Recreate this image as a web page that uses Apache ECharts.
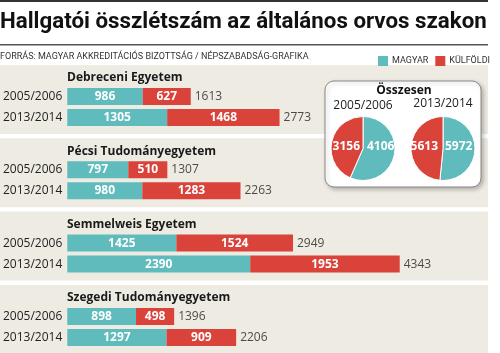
<!DOCTYPE html>
<html>
<head>
<meta charset="utf-8">
<script src="https://cdn.jsdelivr.net/npm/echarts@6/dist/echarts.min.js"></script>
<style>
  html, body { margin: 0; padding: 0; background: #fff; }
  #chart { width: 500px; height: 353px; }
</style>
</head>
<body>
<div id="chart"></div>
<script>
// adatok
var categories = ['2005/2006', '2013/2014'];
var universities = ['Debreceni Egyetem', 'Pécsi Tudományegyetem', 'Semmelweis Egyetem', 'Szegedi Tudományegyetem'];
var magyar = [[986, 1305], [797, 980], [1425, 2390], [898, 1297]];
var kulfoldi = [[627, 1468], [510, 1283], [1524, 1953], [498, 909]];
var totals = [[1613, 2773], [1307, 2263], [2949, 4343], [1396, 2206]];
var pieYears = ['2005/2006', '2013/2014'];
var pieMagyar = [4106, 5972];
var pieKulfoldi = [3156, 5613];

var TEAL = '#5fbbbc';
var RED = '#d9433a';
var PANEL = '#eeebe3';
var font = 'Open Sans';

var chart = echarts.init(document.getElementById('chart'), null, { renderer: 'canvas' });

var grids = [], xAxes = [], yAxes = [], series = [], graphics = [];

// top lines + title
graphics.push({ type: 'rect', shape: { x: 0, y: 0, width: 488, height: 2 }, style: { fill: '#333' } });
graphics.push({ type: 'text', x: 0, y: 22, style: { text: 'Hallgatói összlétszám az általános orvos szakon', font: 'bold 22.3px Roboto', fill: '#111', textVerticalAlign: 'middle' } });
graphics.push({ type: 'rect', shape: { x: 0, y: 44, width: 488, height: 1.5 }, style: { fill: '#555' } });
graphics.push({ type: 'text', x: 0, y: 57, style: { text: 'FORRÁS: MAGYAR AKKREDITÁCIÓS BIZOTTSÁG / NÉPSZABADSÁG-GRAFIKA', font: '9px Roboto', fill: '#333', textVerticalAlign: 'middle' } });

for (var i = 0; i < universities.length; i++) {
  var p = 65 + 73.3 * i;
  graphics.push({ type: 'rect', shape: { x: 0, y: p, width: 488, height: 69 }, style: { fill: PANEL } });
  graphics.push({ type: 'text', x: 67, y: p + 13, style: { text: universities[i], font: 'bold 12px "' + font + '"', fill: '#1a1a1a', textVerticalAlign: 'middle' } });

  grids.push({ left: 67, top: p + 21, width: 383, height: 42 });
  xAxes.push({ gridIndex: i, type: 'value', min: 0, max: 5000, show: false });
  yAxes.push({
    gridIndex: i, type: 'category', data: categories, inverse: true,
    axisLine: { show: false }, axisTick: { show: false },
    axisLabel: { margin: 5, fontSize: 12, fontFamily: font, color: '#222' }
  });
  var barLabel = { show: true, position: 'inside', color: '#fff', fontWeight: 'bold', fontSize: 12, fontFamily: font };
  series.push({
    type: 'bar', name: 'MAGYAR', stack: 's' + i, xAxisIndex: i, yAxisIndex: i,
    data: magyar[i], barWidth: 17, itemStyle: { color: TEAL }, label: barLabel, silent: true
  });
  series.push({
    type: 'bar', name: 'KÜLFÖLDI', stack: 's' + i, xAxisIndex: i, yAxisIndex: i,
    data: kulfoldi[i], barWidth: 17, itemStyle: { color: RED }, label: barLabel, silent: true
  });
  series.push({
    type: 'scatter', xAxisIndex: i, yAxisIndex: i, symbolSize: 0, silent: true,
    data: totals[i].map(function (v, j) { return [v, j]; }),
    label: {
      show: true, position: 'right', distance: 4, fontSize: 12, fontFamily: font, color: '#222',
      formatter: function (d) { return d.value[0]; }
    }
  });
}

// Összesen box
graphics.push({
  type: 'rect', shape: { x: 325, y: 81, width: 156, height: 106, r: 9 },
  style: { fill: '#fff', stroke: '#8a8a8a', lineWidth: 1, shadowBlur: 4, shadowOffsetX: 2, shadowOffsetY: 2, shadowColor: 'rgba(0,0,0,0.25)' }
});
graphics.push({ type: 'text', x: 404, y: 91, style: { text: 'Összesen', font: 'bold 12px "' + font + '"', fill: '#111', textAlign: 'center', textVerticalAlign: 'middle' } });

var pieX = [363, 443];
var pieGap = [[4, -3], [2, -5]];
function pieLayout(k) {
  return function (params) {
    var teal = params.dataIndex === 0;
    return {
      x: pieX[k] + (teal ? pieGap[k][0] : pieGap[k][1]),
      y: 147,
      align: teal ? 'left' : 'right',
      verticalAlign: 'middle'
    };
  };
}
for (var k = 0; k < 2; k++) {
  graphics.push({ type: 'text', x: pieX[k], y: 106 - k * 2, style: { text: pieYears[k], font: '12px "' + font + '"', fill: '#222', textAlign: 'center', textVerticalAlign: 'middle' } });
  series.push({
    type: 'pie', center: [pieX[k], 148.5], radius: 32, startAngle: 90, clockwise: true,
    silent: true, animation: false,
    itemStyle: { borderColor: '#fff', borderWidth: 1 },
    labelLine: { show: false },
    label: { show: true, position: 'inside', color: '#fff', fontWeight: 'bold', fontSize: 12, fontFamily: font, formatter: '{c}' },
    labelLayout: pieLayout(k),
    data: [
      { name: 'MAGYAR', value: pieMagyar[k], itemStyle: { color: TEAL } },
      { name: 'KÜLFÖLDI', value: pieKulfoldi[k], itemStyle: { color: RED } }
    ]
  });
}

chart.setOption({
  animation: false,
  legend: {
    data: ['MAGYAR', 'KÜLFÖLDI'], left: 373, top: 51, itemWidth: 10, itemHeight: 10, itemGap: 7,
    icon: 'rect', selectedMode: false,
    textStyle: { fontSize: 9, fontFamily: 'Roboto', color: '#333', padding: [0, 0, 0, -1] }
  },
  grid: grids,
  xAxis: xAxes,
  yAxis: yAxes,
  graphic: graphics,
  series: series
});
</script>
</body>
</html>
